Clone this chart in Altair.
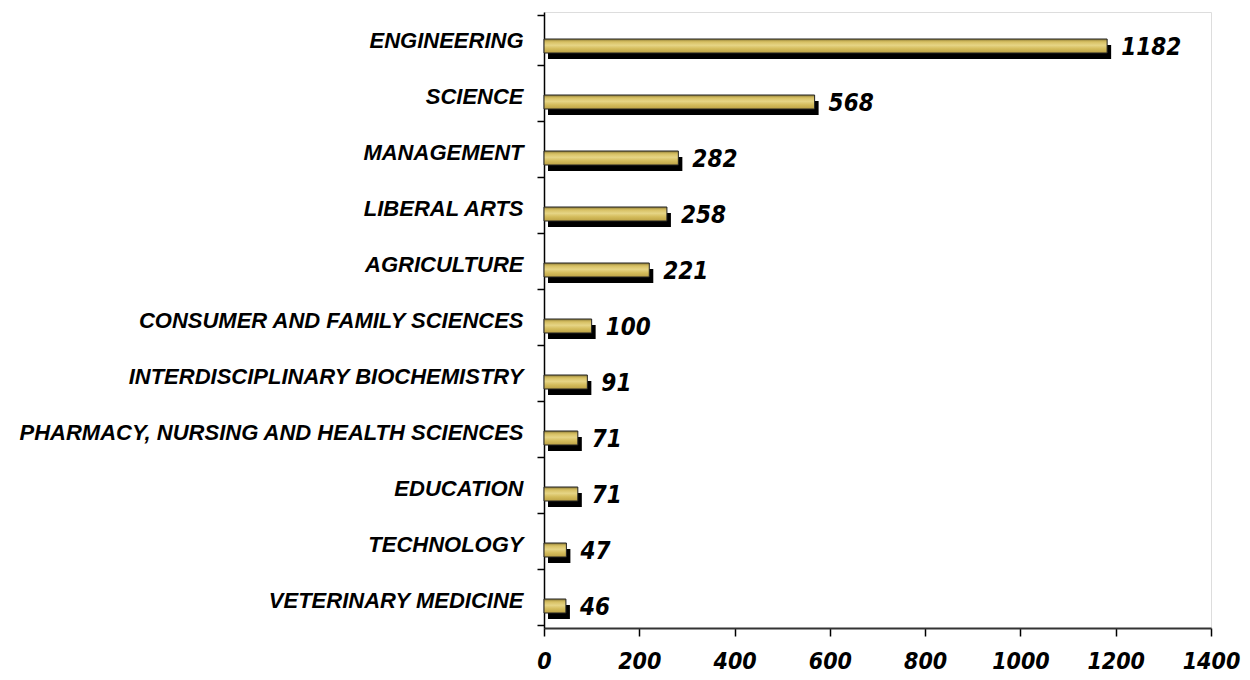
import altair as alt
import pandas as pd

categories = [
    "ENGINEERING", "SCIENCE", "MANAGEMENT", "LIBERAL ARTS", "AGRICULTURE",
    "CONSUMER AND FAMILY SCIENCES", "INTERDISCIPLINARY BIOCHEMISTRY",
    "PHARMACY, NURSING AND HEALTH SCIENCES", "EDUCATION", "TECHNOLOGY",
    "VETERINARY MEDICINE",
]
values = [1182, 568, 282, 258, 221, 100, 91, 71, 71, 47, 46]
x_ticks = [0, 200, 400, 600, 800, 1000, 1200, 1400]

df = pd.DataFrame({"cat": categories, "val": values})

NARROW = "DejaVu Sans Condensed, Liberation Sans Narrow, Liberation Sans"
LABELFONT = "Liberation Sans"

x_enc = alt.X("val:Q", scale=alt.Scale(domain=[0, 1400], nice=False),
              axis=alt.Axis(values=x_ticks, format="d", title=None, grid=False,
                            domainColor="#333333", domainWidth=2, tickColor="#000000",
                            tickSize=8, tickWidth=1.5,
                            labelFont=NARROW, labelFontSize=23, labelFontWeight="bold",
                            labelFontStyle="italic", labelColor="#000000", labelPadding=14,
                            labelFlush=False))
y_enc = alt.Y("cat:N", sort=categories,
              axis=alt.Axis(title=None, domainColor="#000000", domainWidth=1.5,
                            tickColor="#000000", tickSize=7, tickWidth=1.5, tickBand="extent",
                            labelFont=LABELFONT, labelFontSize=22, labelFontWeight="bold",
                            labelFontStyle="italic", labelColor="#000000", labelPadding=14,
                            labelLimit=600))

base = alt.Chart(df)

shadow = base.mark_bar(color="#000000", size=14, yOffset=12, xOffset=4, x2Offset=5).encode(
    x=x_enc, y=y_enc)

gold = base.mark_bar(
    size=14, yOffset=6, stroke="#222222", strokeWidth=1,
    color=alt.Gradient(gradient="linear", x1=0, y1=0, x2=0, y2=1, stops=[
        alt.GradientStop(color="#8C7A36", offset=0),
        alt.GradientStop(color="#D6BF62", offset=0.2),
        alt.GradientStop(color="#E6D586", offset=0.45),
        alt.GradientStop(color="#D4BC5C", offset=0.7),
        alt.GradientStop(color="#BDA245", offset=1),
    ])).encode(x=x_enc, y=y_enc)

text = base.mark_text(align="left", baseline="middle", dx=14, yOffset=8,
                      font=NARROW, fontSize=24, fontWeight="bold", fontStyle="italic",
                      color="#000000").encode(x=x_enc, y=y_enc, text="val:Q")

chart = alt.layer(shadow, gold, text).properties(
    width=667, height=616,
    autosize=alt.AutoSizeParams(type="none"),
    padding={"left": 536, "top": 4, "right": 30, "bottom": 52},
).configure_view(stroke=None).configure(background="#ffffff")

chart.save("out.html", embed_options={"renderer": "svg", "actions": False})
